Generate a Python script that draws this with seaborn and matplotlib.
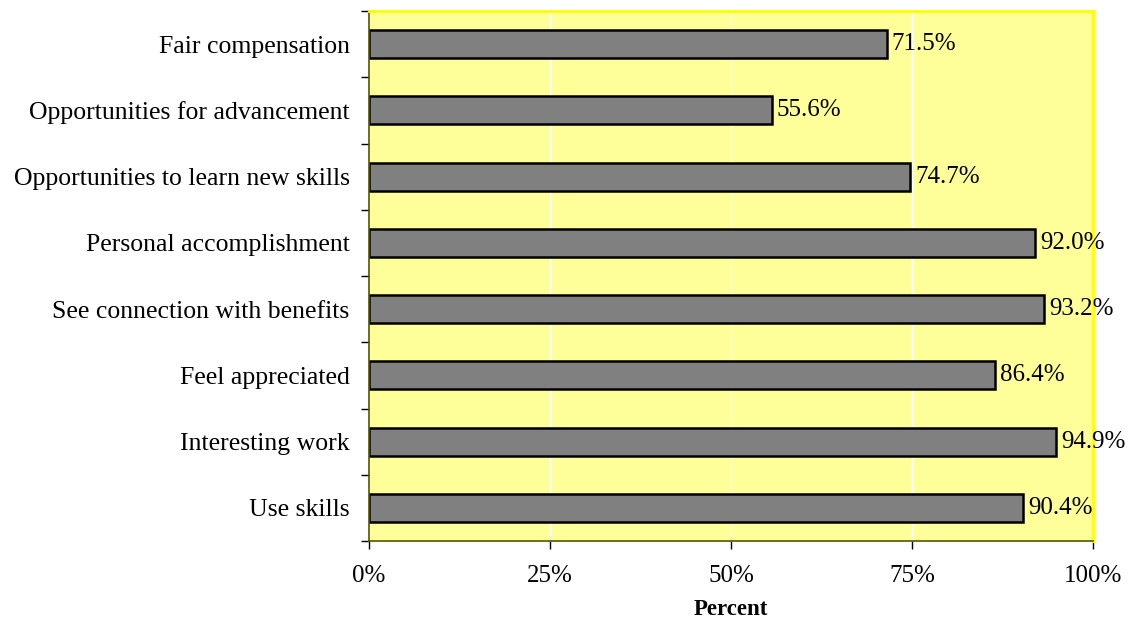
import matplotlib
matplotlib.use("Agg")
import matplotlib.pyplot as plt
import seaborn as sns
import pandas as pd

categories = ["Fair compensation", "Opportunities for advancement",
              "Opportunities to learn new skills", "Personal accomplishment",
              "See connection with benefits", "Feel appreciated",
              "Interesting work", "Use skills"]
values = [71.5, 55.6, 74.7, 92.0, 93.2, 86.4, 94.9, 90.4]
xticks = [0, 25, 50, 75, 100]
xticklabels = ["0%", "25%", "50%", "75%", "100%"]

sns.set_theme(style="white")
plt.rcParams['font.family'] = ['Liberation Serif', 'DejaVu Serif']
plt.rcParams['text.color'] = 'black'
plt.rcParams['xtick.color'] = 'black'
plt.rcParams['ytick.color'] = 'black'
plt.rcParams['axes.labelcolor'] = 'black'

df = pd.DataFrame({"cat": categories, "val": values})

fig = plt.figure(figsize=(11.28, 6.21), dpi=100)
ax = fig.add_axes([369/1128, 1 - 541/621, (1093-369)/1128, (541-11)/621])
ax.set_facecolor("#FFFF99")

sns.barplot(data=df, x="val", y="cat", orient="h", color="#808080",
            edgecolor="black", linewidth=1.8, width=0.42, saturation=1, ax=ax)

ax.set_xlim(0, 100)
ax.set_ylim(len(categories) - 0.5, -0.5)
ax.set_xticks(xticks)
ax.set_xticklabels(xticklabels, fontsize=18)
for x in [25, 50, 75]:
    ax.axvline(x, color="white", lw=1, zorder=0)
ax.set_axisbelow(True)

ax.set_yticks([i - 0.5 for i in range(len(categories) + 1)], minor=False)
ax.set_yticklabels([])
ax.set_yticks(range(len(categories)), minor=True)
ax.set_yticklabels(categories, minor=True, fontsize=18.5)
ax.tick_params(axis="y", which="major", length=6, width=1, left=True, direction="out")
ax.tick_params(axis="y", which="minor", length=0, pad=14)
ax.tick_params(axis="x", which="major", length=6, width=1, bottom=True, direction="out", pad=11)

for i, v in enumerate(values):
    ax.text(v + 0.7, i, f"{v:.1f}%", va="center", ha="left", fontsize=18)

ax.set_xlabel("Percent", fontsize=16.5, fontweight="bold", labelpad=9)
ax.set_ylabel("")

for s in ["top", "right"]:
    ax.spines[s].set_color("#FFFF00")
    ax.spines[s].set_linewidth(2)
for s in ["left", "bottom"]:
    ax.spines[s].set_color("#555500")
    ax.spines[s].set_linewidth(1.2)

fig.savefig("out.png", dpi=100)
